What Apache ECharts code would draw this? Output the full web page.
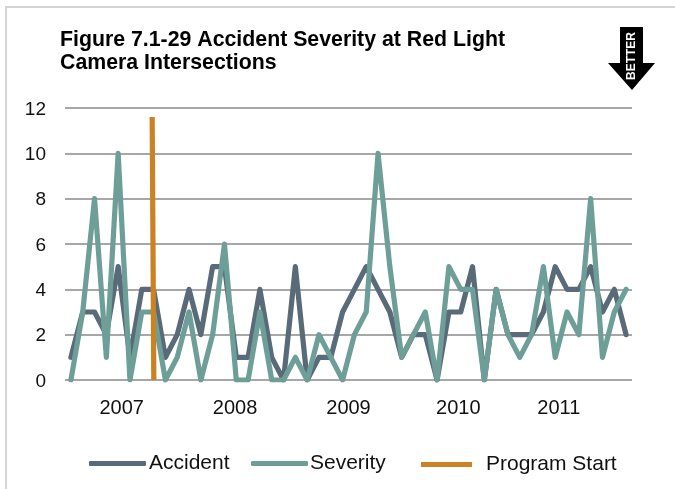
<!DOCTYPE html>
<html><head><meta charset="utf-8">
<style>html,body{margin:0;padding:0;background:#fff}#c{width:675px;height:489px}
#f{position:absolute;left:5px;top:6px;width:670px;height:483px;border-left:2px solid #d4d4d4;border-top:2px solid #d4d4d4;box-sizing:border-box;pointer-events:none}</style>
<script src="https://cdn.jsdelivr.net/npm/echarts@6/dist/echarts.min.js"></script>
</head><body><div id="f"></div><div id="c" style="position:absolute;left:0;top:0"></div>
<script>
const yearLabels = ['2007','2008','2009','2010','2011'];
const yearTickIndex = [4.3,13.9,23.5,32.8,41.3];
const accident = [1,3,3,2,5,1,4,4,1,2,4,2,5,5,1,1,4,1,0,5,0,1,1,3,4,5,4,3,1,2,2,0,3,3,5,0,4,2,2,2,3,5,4,4,5,3,4,2];
const severity = [0,3,8,1,10,0,3,3,0,1,3,0,2,6,0,0,3,0,0,1,0,2,1,0,2,3,10,5,1,2,3,0,5,4,4,0,4,2,1,2,5,1,3,2,8,1,3,4];
const programX = [6.88,7.02];
const programY = [11.6,0];
const FONT = '"Liberation Sans", Arial, sans-serif';
const chart = echarts.init(document.getElementById('c'), null, {renderer:'canvas'});
const pts = a => a.map((v,i)=>[i,v]);
const line = (name,data,color,cap) => ({name,type:'line',data,symbol:'none',smooth:false,silent:true,
  lineStyle:{color,width:5.2,cap,join:'round'},itemStyle:{color},animation:false});
const leg = (name,left,top,icon,w,pad,lh) => ({data:[name],left,top,icon,itemWidth:w,itemHeight:5,selectedMode:false,padding:0,
  textStyle:{color:'#111',fontFamily:FONT,fontSize:21,padding:pad,verticalAlign:'top',lineHeight:lh}});
chart.setOption({
  animation:false,
  backgroundColor:'transparent',
  title:{text:'Figure 7.1-29 Accident Severity at Red Light\nCamera Intersections',left:60,top:29,padding:0,
    textStyle:{fontFamily:FONT,fontWeight:'bold',fontSize:21.3,lineHeight:23,color:'#000'}},
  grid:{left:65,right:43,top:108,bottom:109,containLabel:false},
  xAxis:{type:'value',min:-0.5,max:47.5,splitLine:{show:false},axisTick:{show:false},
    axisLine:{show:false},
    axisLabel:{customValues:yearTickIndex,margin:18,color:'#111',fontFamily:FONT,fontSize:20,
      formatter:v=>yearLabels[yearTickIndex.indexOf(v)]}},
  yAxis:{type:'value',min:0,max:12,interval:2,axisLine:{show:false},axisTick:{show:false},
    splitLine:{lineStyle:{color:'#8a8a8a',width:1.6}},
    axisLabel:{margin:19,color:'#111',fontFamily:FONT,fontSize:19,verticalAlign:'top',lineHeight:3}},
  legend:[leg('Accident',89,453,'roundRect',57,[0,0,0,-2],4),
          leg('Severity',251,453,'roundRect',57,[0,0,0,-3],4),
          leg('Program Start',421,454,'rect',51,[0,0,0,9],8)],
  series:[line('Accident',pts(accident),'#596a79','round'),
          line('Severity',pts(severity),'#6d9f98','round'),
          line('Program Start',programX.map((x,i)=>[x,programY[i]]),'#cb8222','butt')],
  graphic:[
    {type:'polygon',shape:{points:[[620,27],[643,27],[643,63],[655,63],[632,90],[608,63],[620,63]]},style:{fill:'#000'}},
    {type:'text',x:632,y:56,rotation:Math.PI/2,style:{text:'BETTER',fill:'#fff',font:'bold 12px '+FONT,align:'center',verticalAlign:'middle'}}
  ]
});
</script></body></html>
